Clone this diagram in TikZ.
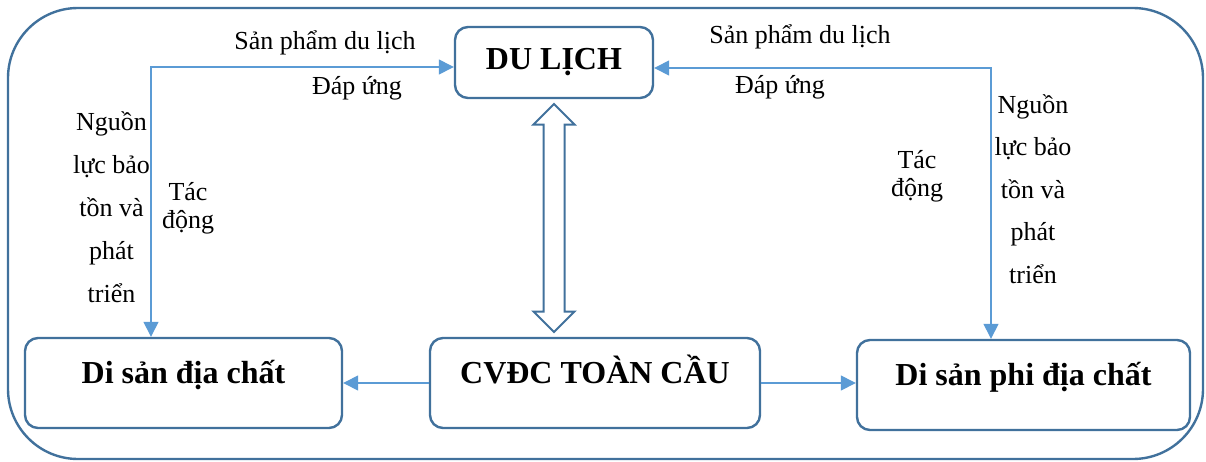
\documentclass[tikz,border=0pt]{standalone}
\usepackage{fontspec}
\setmainfont{Liberation Serif}
\usetikzlibrary{arrows.meta,shapes.arrows,calc}
\definecolor{boxblue}{HTML}{41719C}
\definecolor{linkblue}{HTML}{5B9BD5}

\begin{document}
\begin{tikzpicture}[x=0.5pt,y=-0.5pt,%
% common options for the boxes:
box/.style = {draw=boxblue, line width=1.2pt, fill=white, rounded corners=6.5pt,
            align=center, inner sep=0, font=\fontsize{16}{19}\bfseries},
% common options for the thin arrows:
link/.style = {draw=linkblue, line width=0.7pt,
            >={Triangle[length=7.5pt,width=7.5pt]}},
% common options for the plain labels:
lbl/.style = {anchor=base, inner sep=0, font=\fontsize{13}{15}\selectfont}]
\useasboundingbox (0,0) rectangle (1206,461);
\draw[boxblue, line width=1.2pt, rounded corners=35pt] (8,8) rectangle (1203,459);
\node[box, minimum width=99pt, minimum height=35.5pt] (dulich) at (554,62.5) {DU LỊCH};
\node[box, minimum width=158.5pt, minimum height=45pt, text height=12pt, text depth=12pt] (geo) at (183.5,383) {Di sản địa chất};
\node[box, minimum width=165pt, minimum height=45pt, text height=12pt, text depth=12pt] (cvdc) at (595,383) {CVĐC TOÀN CẦU};
\node[box, minimum width=166.5pt, minimum height=45pt, text height=12pt, text depth=12pt] (phi) at (1023.5,385) {Di sản phi địa chất};
\node[double arrow, draw=boxblue, line width=1pt, fill=white, rotate=90,
      inner xsep=0, inner ysep=4.75pt, text height=0pt, text depth=0pt,
      minimum height=114pt, minimum width=19.5pt, double arrow head extend=5pt]
      (dbl) at ($(dulich.south)!0.5!(dulich.south |- cvdc.north)$) {};
\coordinate (lc) at (151,67);
\coordinate (rc) at (991,68);
\draw[link, <->] (lc -| dulich.west) -- (lc) -- (lc |- geo.north);
\draw[link, <->] (rc -| dulich.east) -- (rc) -- (rc |- phi.north);
\draw[link, ->] (cvdc.west) -- (cvdc.west -| geo.east);
\draw[link, ->] (cvdc.east) -- (cvdc.east -| phi.west);
\node[lbl] (sp1) at (325,49) {Sản phẩm du lịch};
\node[lbl] (da1) at (357,94) {Đáp ứng};
\node[lbl] (sp2) at (800,43) {Sản phẩm du lịch};
\node[lbl] (da2) at (780,93) {Đáp ứng};
\foreach \w [count=\i] in {Nguồn, lực bảo, tồn và, phát, triển} {
  \node[lbl] (nl\i) at (111.5,87+43*\i) {\w};
  \node[lbl] (nr\i) at (1033,70.5+42.5*\i) {\w};
}
\foreach \w [count=\i] in {Tác, động} {
  \node[lbl] (tl\i) at (188,172+28*\i) {\w};
  \node[lbl] (tr\i) at (917,139.5+28.5*\i) {\w};
}
\end{tikzpicture}
\end{document}
